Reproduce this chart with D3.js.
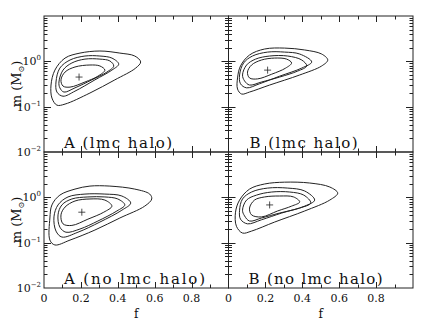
<!DOCTYPE html>
<html>
<head>
<meta charset="utf-8">
<script src="https://cdn.jsdelivr.net/npm/d3@7"></script>
<style>
  body { margin: 0; background: #fff; }
  svg { display: block; }
  text { font-family: "DejaVu Serif", "Liberation Serif", serif; fill: #111; }
</style>
</head>
<body>
<div id="chart"></div>
<script>
// tick values
const fTicks = [0, 0.2, 0.4, 0.6, 0.8];
const mDecades = [0.01, 0.1, 1];
const mDecadeExp = ["-2", "-1", "0"];

// panel labels
const panelLabels = ["A (lmc halo)", "B (lmc halo)", "A (no lmc halo)", "B (no lmc halo)"];

// best-fit points [f, m]
const bestFit = [[0.19, 0.45], [0.212, 0.64], [0.205, 0.47], [0.223, 0.68]];

// contours [f, m], outer to inner
const contoursA_lmc = [
  [[.038,.30],[.059,.64],[.114,1.18],[.195,1.52],[.303,1.69],[.411,1.52],[.492,1.31],[.524,.97],[.497,.71],[.384,.39],[.249,.20],[.114,.114],[.070,.108],[.043,.155]],
  [[.065,.35],[.086,.71],[.141,1.07],[.222,1.31],[.303,1.31],[.368,1.18],[.405,.87],[.368,.64],[.276,.39],[.168,.22],[.103,.17],[.070,.21]],
  [[.081,.35],[.103,.64],[.151,.92],[.222,1.12],[.303,1.12],[.357,1.02],[.378,.79],[.341,.58],[.259,.39],[.168,.26],[.108,.21],[.086,.26]],
  [[.092,.39],[.114,.58],[.168,.75],[.249,.83],[.303,.79],[.330,.64],[.292,.47],[.222,.35],[.141,.27],[.103,.285]]
];
const contoursB_lmc = [
  [[.049,.43],[.065,.79],[.114,1.38],[.196,1.87],[.304,1.96],[.413,1.78],[.505,1.45],[.538,1.07],[.505,.79],[.386,.50],[.223,.30],[.114,.21],[.071,.19],[.049,.245]],
  [[.060,.50],[.082,.92],[.130,1.31],[.212,1.60],[.304,1.60],[.386,1.45],[.451,.97],[.397,.71],[.277,.47],[.168,.32],[.098,.26],[.065,.32]],
  [[.076,.50],[.098,.83],[.147,1.12],[.223,1.31],[.321,1.31],[.397,1.07],[.424,.79],[.375,.61],[.277,.45],[.179,.35],[.114,.30],[.087,.37]],
  [[.103,.58],[.125,.83],[.179,1.07],[.250,1.18],[.315,1.12],[.342,.92],[.310,.71],[.234,.52],[.158,.41],[.114,.43]]
];
const contoursA_nolmc = [
  [[.032,.35],[.043,.68],[.086,1.12],[.168,1.52],[.249,1.77],[.357,1.77],[.492,1.52],[.573,1.18],[.584,.92],[.546,.64],[.411,.35],[.276,.19],[.141,.114],[.059,.089],[.032,.114]],
  [[.054,.37],[.076,.68],[.130,1.02],[.222,1.18],[.330,1.18],[.422,1.07],[.470,.75],[.422,.52],[.303,.285],[.184,.17],[.097,.133],[.065,.18]],
  [[.076,.41],[.097,.68],[.151,.92],[.238,1.02],[.330,1.02],[.400,.92],[.438,.68],[.395,.50],[.292,.30],[.195,.20],[.119,.17],[.086,.22]],
  [[.092,.41],[.114,.61],[.168,.83],[.249,.92],[.330,.87],[.368,.64],[.324,.47],[.238,.33],[.151,.24],[.103,.26]]
];
const contoursB_nolmc = [
  [[.038,.47],[.060,.87],[.114,1.52],[.196,1.97],[.304,2.16],[.440,2.07],[.549,1.69],[.592,1.24],[.549,.87],[.413,.50],[.250,.285],[.125,.18],[.076,.163],[.043,.23]],
  [[.060,.52],[.076,.92],[.125,1.31],[.212,1.60],[.321,1.60],[.413,1.38],[.467,.87],[.413,.64],[.288,.45],[.179,.32],[.103,.26],[.065,.33]],
  [[.076,.52],[.098,.87],[.152,1.12],[.234,1.31],[.332,1.31],[.408,1.12],[.446,.75],[.386,.58],[.277,.45],[.179,.35],[.114,.30],[.087,.39]],
  [[.114,.58],[.141,.87],[.196,1.02],[.277,1.07],[.353,1.02],[.386,.79],[.342,.64],[.266,.50],[.179,.37],[.125,.41]]
];
const contours = [contoursA_lmc, contoursB_lmc, contoursA_nolmc, contoursB_nolmc];

const width = 438, height = 327;
const padLeft = 44, padTop = 16, pw = 184.5, ph = 136;
const ink = "#222";

const svg = d3.select("#chart").append("svg")
  .attr("width", width)
  .attr("height", height);

// minor ticks for log axis
const mMinor = [];
mDecades.forEach(d => { for (let k = 2; k <= 9; k++) mMinor.push(d * k); });
const fMinor = d3.range(1, 10).map(i => i / 10).filter(v => Math.round(v * 10) % 2 === 1);
const fMajor = [0.2, 0.4, 0.6, 0.8];

const line = d3.line().curve(d3.curveCatmullRomClosed.alpha(0.5));

panelLabels.forEach((label, i) => {
  const col = i % 2, row = Math.floor(i / 2);
  const x0 = padLeft + col * pw, y0 = padTop + row * ph;
  const x = d3.scaleLinear().domain([0, 1]).range([x0, x0 + pw]);
  const y = d3.scaleLog().domain([0.01, 10]).range([y0 + ph, y0]);
  const g = svg.append("g");

  // frame
  g.append("rect")
    .attr("x", x0).attr("y", y0)
    .attr("width", pw).attr("height", ph)
    .attr("fill", "none").attr("stroke", ink).attr("stroke-width", 1);

  const ticks = g.append("g").attr("stroke", ink).attr("stroke-width", 1);
  // x ticks, top and bottom, inward
  const xt = fMajor.map(v => [v, 6]).concat(fMinor.map(v => [v, 3.5]));
  xt.forEach(([v, len]) => {
    const px = Math.round(x(v)) + 0.5;
    ticks.append("line").attr("x1", px).attr("x2", px).attr("y1", y0 + ph).attr("y2", y0 + ph - len);
    ticks.append("line").attr("x1", px).attr("x2", px).attr("y1", y0).attr("y2", y0 + len);
  });
  // y ticks, left and right, inward
  const yt = mDecades.filter(v => v > 0.01).map(v => [v, 7]).concat(mMinor.map(v => [v, 3.5]));
  yt.forEach(([v, len]) => {
    const py = Math.round(y(v)) + 0.5;
    ticks.append("line").attr("x1", x0).attr("x2", x0 + len).attr("y1", py).attr("y2", py);
    ticks.append("line").attr("x1", x0 + pw).attr("x2", x0 + pw - len).attr("y1", py).attr("y2", py);
  });

  // contours
  g.append("g")
    .selectAll("path")
    .data(contours[i])
    .join("path")
    .attr("d", d => line(d.map(p => [x(p[0]), y(p[1])])))
    .attr("fill", "none")
    .attr("stroke", ink)
    .attr("stroke-width", 1);

  // best fit cross
  const bx = x(bestFit[i][0]), by = y(bestFit[i][1]);
  g.append("path")
    .attr("d", `M${bx - 3.5},${by}H${bx + 3.5}M${bx},${by - 3.5}V${by + 3.5}`)
    .attr("stroke", ink).attr("stroke-width", 0.8);

  // panel label
  const labelW = [108, 108, 141, 134][i];
  g.append("text")
    .attr("x", x0 + 20 + (i === 1 ? 1 : 0))
    .attr("y", y0 + ph - 4)
    .attr("font-size", 15)
    .attr("textLength", labelW)
    .attr("lengthAdjust", "spacing")
    .text(label);

  // y tick labels on left column
  if (col === 0) {
    mDecades.forEach((v, k) => {
      const t = g.append("text")
        .attr("x", x0 - 3)
        .attr("y", y(v) + 4)
        .attr("text-anchor", "end")
        .attr("font-size", 11);
      t.append("tspan").text("10");
      t.append("tspan").attr("dy", -5).attr("font-size", 7).text(mDecadeExp[k].replace("-", "\u2212"));
    });
    g.append("text")
      .attr("transform", `translate(${21},${y0 + ph / 2}) rotate(-90)`)
      .attr("text-anchor", "middle")
      .attr("font-size", 13)
      .call(t => {
        t.append("tspan").text("m  (M");
        t.append("tspan").attr("dy", 3).attr("font-size", 8).text("\u2299");
        t.append("tspan").attr("dy", -3).text(")");
      });
  }

  // x tick labels on bottom row
  if (row === 1) {
    g.append("g")
      .selectAll("text")
      .data(fTicks)
      .join("text")
      .attr("x", d => x(d))
      .attr("y", y0 + ph + 14)
      .attr("text-anchor", "middle")
      .attr("font-size", 11)
      .text(d => d === 0 ? "0" : d3.format(".1f")(d));
    g.append("text")
      .attr("x", x0 + pw / 2)
      .attr("y", y0 + ph + 30)
      .attr("text-anchor", "middle")
      .attr("font-size", 12)
      .text("f");
  }
});
</script>
</body>
</html>
